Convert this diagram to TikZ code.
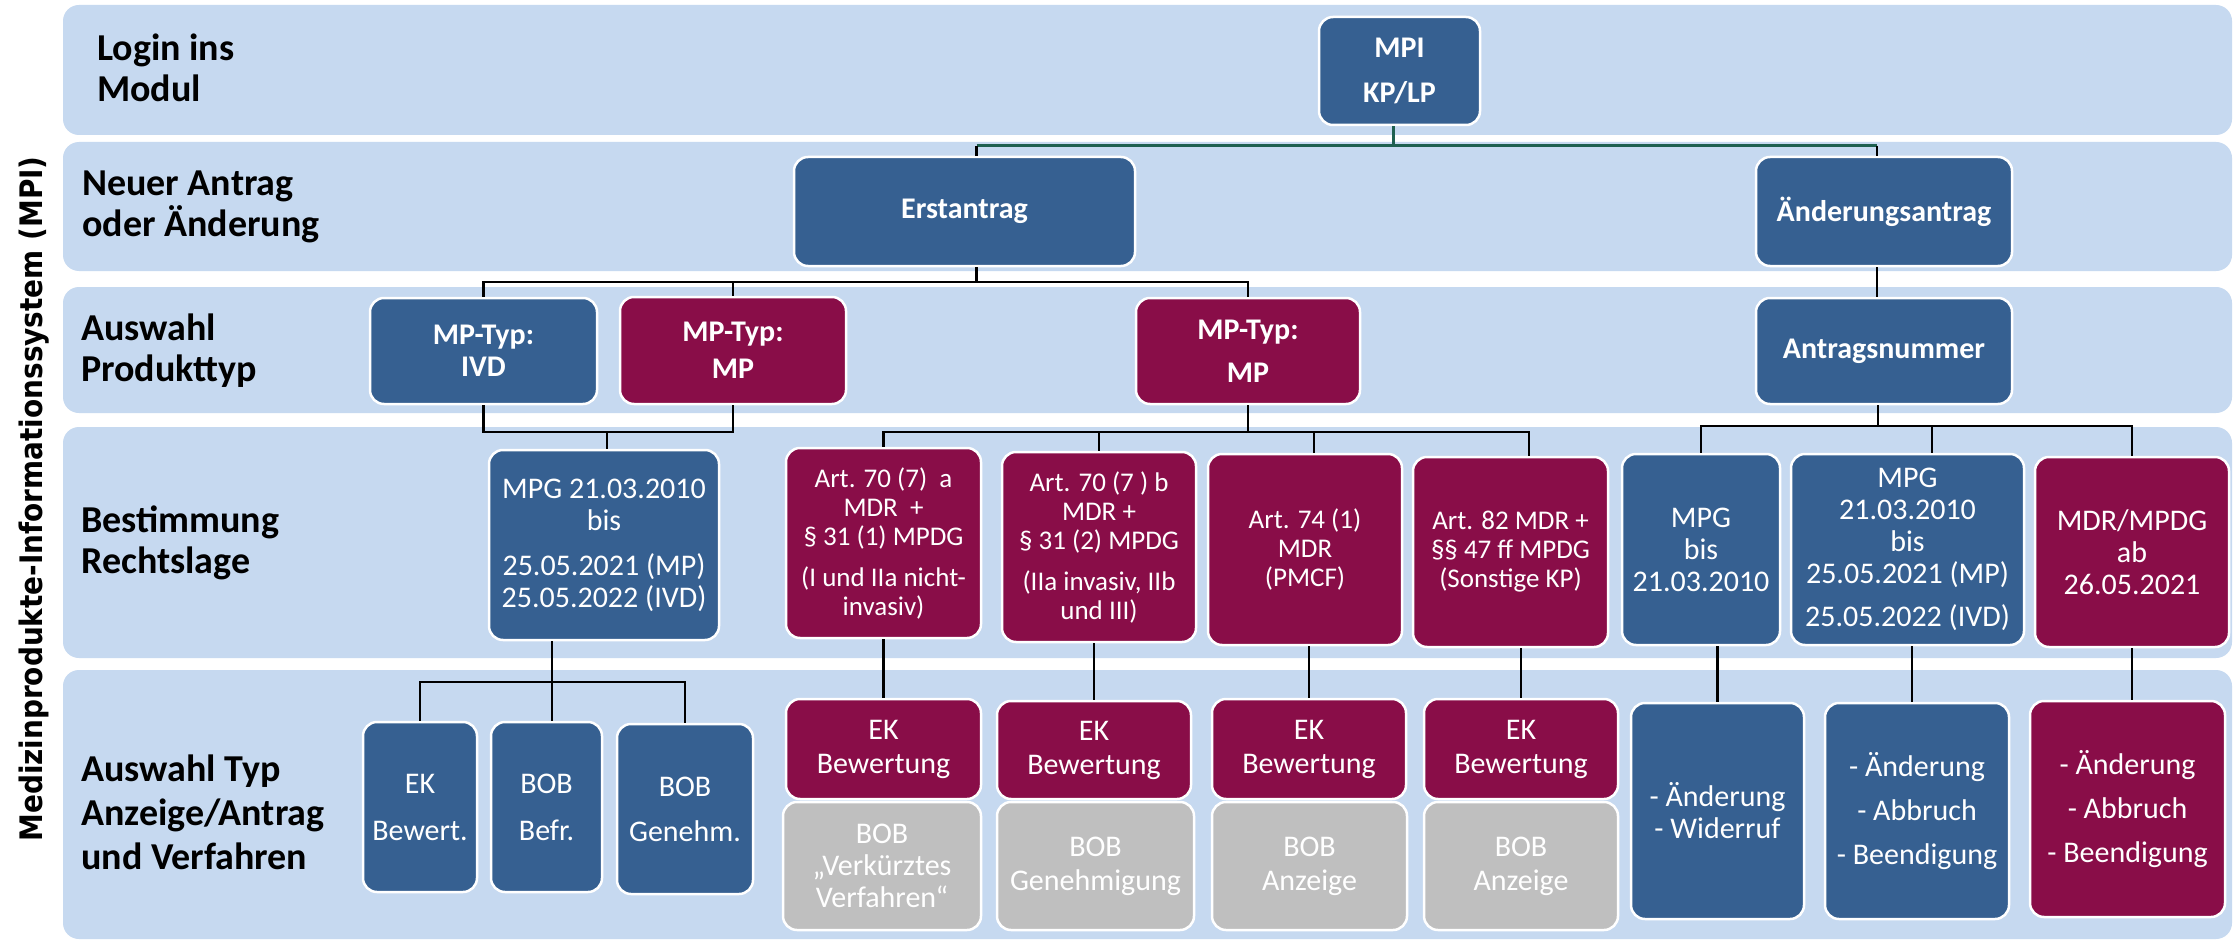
\documentclass[tikz,border=0pt]{standalone}
\usepackage{fontspec}
\setmainfont{Carlito}
\newfontfamily\vlabfont{DejaVu Sans}
\definecolor{bandblue}{RGB}{198,217,240}
\definecolor{mblue}{RGB}{54,96,145}
\definecolor{mred}{RGB}{137,13,72}
\definecolor{mgray}{RGB}{191,191,191}
\definecolor{mgreen}{RGB}{30,96,80}
\newcommand\boxB{\fontsize{30}{32}\selectfont\bfseries}
\newcommand\boxR{\fontsize{30}{32}\selectfont}
\newcommand\boxS{\fontsize{27}{29}\selectfont}
\newcommand\rowlab{\fontsize{38}{41}\selectfont\bfseries}
\tikzset{
  band/.style={fill=bandblue, rounded corners=16pt},
  box/.style={draw=white, line width=2.5pt, rounded corners=14pt, text=white, align=center, inner sep=0pt},
  bluebox/.style={box, fill=mblue},
  redbox/.style={box, fill=mred},
  graybox/.style={box, fill=mgray},
  rowlabel/.style={anchor=west, align=left, font=\rowlab, inner sep=0pt},
  conn/.style={line width=2.5pt, black},
  gconn/.style={line width=3pt, mgreen},
}
\begin{document}
\begin{tikzpicture}[x=1pt,y=-1pt]
\useasboundingbox (0,0) rectangle (2235,944);
\fill[white] (0,0) rectangle (2235,944);
% bands
\fill[band] (63,5) rectangle (2232,135);
\fill[band] (63,142) rectangle (2232,271);
\fill[band] (63,287) rectangle (2232,413);
\fill[band] (63,427) rectangle (2232,658);
\fill[band] (63,670) rectangle (2232,939);
% side label
\node[rotate=90, inner sep=0pt, font=\vlabfont\bfseries\fontsize{31}{31}\selectfont] (side) at (34,499) {\scalebox{0.9}[1]{Medizinprodukte-Informationssystem (MPI)}};
% row labels
\node[rowlabel] (l1) at (97,68) {Login ins\\Modul};
\node[rowlabel] (l2) at (82,207) {Neuer Antrag\\oder Änderung};
\node[rowlabel] (l3) at (81,351) {Auswahl\\Produkttyp};
\node[rowlabel] (l4) at (81,543) {Bestimmung\\Rechtslage};
\node[rowlabel] (l5) at (81,812) {Auswahl Typ\\[3pt]Anzeige/Antrag\\[3pt]und Verfahren};
% row 1
\node[bluebox, minimum width=161, minimum height=108, font=\boxB] (mpi) at (1399.5,71) {MPI\\[13pt]KP/LP};
% row 2
\node[bluebox, minimum width=341, minimum height=109, font=\boxB] (erst) at (964.5,211.5) {Erstantrag};
\node[bluebox, minimum width=256, minimum height=109, font=\boxB] (aend) at (1884,211.5) {Änderungsantrag};
% row 3
\node[bluebox, minimum width=227, minimum height=106, font=\boxB] (ivd) at (483.5,351) {MP-Typ:\\IVD};
\node[redbox, minimum width=226, minimum height=107, font=\boxB] (mp1) at (733,350.5) {MP-Typ:\\[5pt]MP};
\node[redbox, minimum width=224, minimum height=106, font=\boxB] (mp2) at (1248,351) {MP-Typ:\\[11pt]MP};
\node[bluebox, minimum width=256, minimum height=106, font=\boxB] (antr) at (1884,351) {Antragsnummer};
% row 4
\node[bluebox, minimum width=230, minimum height=190, font=\boxR] (mpg1) at (604,545) {MPG 21.03.2010\\bis\\[13pt]25.05.2021 (MP)\\25.05.2022 (IVD)};
\node[redbox, minimum width=195, minimum height=190, font=\boxS] (a70a) at (883.5,543) {Art. 70 (7)\ \ a\\MDR\ \ +\\§ 31 (1) MPDG\\[12pt](I und IIa nicht-\\invasiv)};
\node[redbox, minimum width=194, minimum height=190, font=\boxS] (a70b) at (1099,547) {Art. 70 (7 ) b\\MDR +\\§ 31 (2) MPDG\\[12pt](IIa invasiv, IIb\\und III)};
\node[redbox, minimum width=194, minimum height=191, font=\boxS] (a74) at (1305,549.5) {Art. 74 (1)\\MDR\\(PMCF)};
\node[redbox, minimum width=195, minimum height=190, font=\boxS] (a82) at (1510.5,552) {Art. 82 MDR +\\§§ 47 ff MPDG\\(Sonstige KP)};
\node[bluebox, minimum width=158, minimum height=191, font=\boxR] (mpgbis) at (1701,549.5) {MPG\\bis\\21.03.2010};
\node[bluebox, minimum width=233, minimum height=191, font=\boxR] (mpg2) at (1907.5,549.5) {MPG\\21.03.2010\\bis\\25.05.2021 (MP)\\[11pt]25.05.2022 (IVD)};
\node[redbox, minimum width=194, minimum height=190, font=\boxR] (mdr) at (2132,552) {MDR/MPDG\\ab\\26.05.2021};
% row 5
\node[bluebox, minimum width=114, minimum height=170, font=\boxR] (ek0) at (420,807) {EK\\[15pt]Bewert.};
\node[bluebox, minimum width=111, minimum height=170, font=\boxR] (bob0) at (546.5,807) {BOB\\[15pt]Befr.};
\node[bluebox, minimum width=136, minimum height=170, font=\boxR] (bob0g) at (685,809) {BOB\\[13pt]Genehm.};
\node[redbox, minimum width=195, minimum height=100, font=\boxR] (ek1) at (883.5,749) {EK\\[2pt]Bewertung};
\node[graybox, minimum width=198, minimum height=128, font=\boxR] (bob1) at (882,866) {BOB\\„Verkürztes\\Verfahren“};
\node[redbox, minimum width=194, minimum height=98, font=\boxR] (ek2) at (1094,750) {EK\\[2pt]Bewertung};
\node[graybox, minimum width=197, minimum height=128, font=\boxR] (bob2) at (1095.5,866) {BOB\\[2pt]Genehmigung};
\node[redbox, minimum width=194, minimum height=100, font=\boxR] (ek3) at (1309,749) {EK\\[2pt]Bewertung};
\node[graybox, minimum width=195, minimum height=128, font=\boxR] (bob3) at (1309.5,866) {BOB\\[2pt]Anzeige};
\node[redbox, minimum width=194, minimum height=100, font=\boxR] (ek4) at (1521,749) {EK\\[2pt]Bewertung};
\node[graybox, minimum width=194, minimum height=128, font=\boxR] (bob4) at (1521,866) {BOB\\[2pt]Anzeige};
\node[bluebox, minimum width=173, minimum height=216, font=\boxR] (aw) at (1717.5,811) {- Änderung\\- Widerruf};
\node[bluebox, minimum width=184, minimum height=216, font=\boxR] (aab) at (1917,811) {- Änderung\\[12pt]- Abbruch\\[12pt]- Beendigung};
\node[redbox, minimum width=195, minimum height=216, font=\boxR] (mab) at (2127.5,809) {- Änderung\\[12pt]- Abbruch\\[12pt]- Beendigung};
% helper levels
\coordinate (hy1) at (0,146);
\coordinate (hy2) at (0,282);
\coordinate (hy3) at (0,432);
\coordinate (hy4) at (0,432);
\coordinate (hy5) at (0,426);
\coordinate (hy6) at (0,682);
% MPI tree
\draw[gconn] ([xshift=-6pt]mpi.south) -- ([xshift=-6pt]mpi.south |- hy1);
\draw[gconn] ([xshift=12pt]erst.north |- hy1) -- ([xshift=-7pt]aend.north |- hy1);
\draw[conn] ([xshift=12pt]erst.north |- hy1) -- ([xshift=12pt]erst.north);
\draw[conn] ([xshift=-7pt]aend.north |- hy1) -- ([xshift=-7pt]aend.north);
% Erstantrag tree
\draw[conn] ([xshift=12pt]erst.south) -- ([xshift=12pt]erst.south |- hy2);
\draw[conn] (ivd.north) |- (mp2.north |- hy2) -- (mp2.north);
\draw[conn] (mp1.north |- hy2) -- (mp1.north);
% Aenderungsantrag
\draw[conn] ([xshift=-7pt]aend.south) -- ([xshift=-7pt]antr.north);
% IVD / MP join
\draw[conn] (ivd.south) |- (mp1.south |- hy3) -- (mp1.south);
\draw[conn] ([xshift=3pt]mpg1.north |- hy3) -- ([xshift=3pt]mpg1.north);
% MP2 tree
\draw[conn] (mp2.south) -- (mp2.south |- hy4);
\draw[conn] (a70a.north) |- ([xshift=18.5pt]a82.north |- hy4) -- ([xshift=18.5pt]a82.north);
\draw[conn] (a70b.north |- hy4) -- (a70b.north);
\draw[conn] ([xshift=9pt]a74.north |- hy4) -- ([xshift=9pt]a74.north);
% Antragsnummer tree
\draw[conn] ([xshift=-6pt]antr.south) -- ([xshift=-6pt]antr.south |- hy5);
\draw[conn] (mpgbis.north) |- (mdr.north |- hy5) -- (mdr.north);
\draw[conn] ([xshift=24.5pt]mpg2.north |- hy5) -- ([xshift=24.5pt]mpg2.north);
% row 4 -> row 5
\draw[conn] (ek1.north |- a70a.south) -- (ek1.north);
\draw[conn] (ek2.north |- a70b.south) -- (ek2.north);
\draw[conn] (ek3.north |- a74.south) -- (ek3.north);
\draw[conn] (ek4.north |- a82.south) -- (ek4.north);
\draw[conn] (aw.north |- mpgbis.south) -- (aw.north);
\draw[conn] ([xshift=-5pt]aab.north |- mpg2.south) -- ([xshift=-5pt]aab.north);
\draw[conn] ([xshift=4.5pt]mab.north |- mdr.south) -- ([xshift=4.5pt]mab.north);
% MPG1 -> row 5
\draw[conn] ([xshift=5.5pt]bob0.north |- mpg1.south) -- ([xshift=5.5pt]bob0.north);
\draw[conn] (ek0.north) |- (bob0g.north |- hy6) -- (bob0g.north);
\end{tikzpicture}
\end{document}
